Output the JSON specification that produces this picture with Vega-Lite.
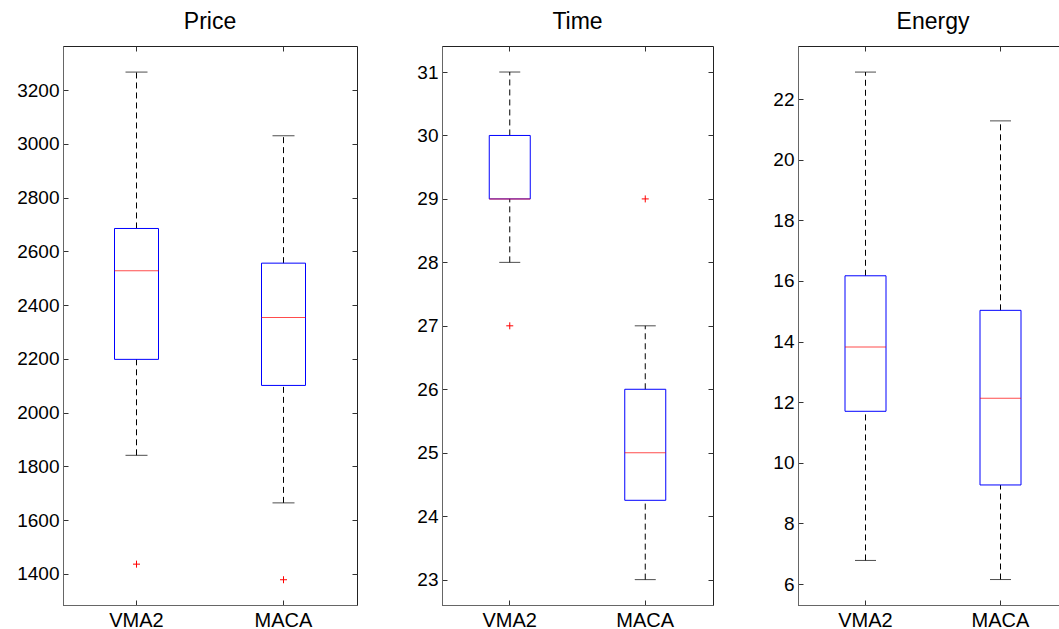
{
  "$schema": "https://vega.github.io/schema/vega-lite/v6.json",
  "padding": {"left": 16, "top": 10, "right": 0, "bottom": 0},
  "background": "white",
  "spacing": 58,
  "config": {
    "view": {"stroke": "#222", "strokeWidth": 1},
    "font": "Liberation Sans",
    "axis": {"labelFont": "Liberation Sans", "labelColor": "#000", "domainColor": "#666", "tickColor": "#333", "grid": false, "title": null},
    "title": {"font": "Liberation Sans", "fontSize": 23, "fontWeight": "normal", "color": "#000", "anchor": "middle", "baseline": "alphabetic", "offset": 12}
  },
  "datasets": {
    "stats": [
      {"metric": "Price", "group": "VMA2", "lower": 1841, "q1": 2198, "median": 2528, "q3": 2685, "upper": 3267},
      {"metric": "Price", "group": "MACA", "lower": 1664, "q1": 2101, "median": 2354, "q3": 2556, "upper": 3030},
      {"metric": "Time", "group": "VMA2", "lower": 28, "q1": 29, "median": 29, "q3": 30, "upper": 31},
      {"metric": "Time", "group": "MACA", "lower": 23, "q1": 24.25, "median": 25, "q3": 26, "upper": 27},
      {"metric": "Energy", "group": "VMA2", "lower": 6.78, "q1": 11.7, "median": 13.82, "q3": 16.17, "upper": 22.89},
      {"metric": "Energy", "group": "MACA", "lower": 6.15, "q1": 9.27, "median": 12.13, "q3": 15.03, "upper": 21.28}
    ],
    "outliers": [
      {"metric": "Price", "group": "VMA2", "value": 1436},
      {"metric": "Price", "group": "MACA", "value": 1378},
      {"metric": "Time", "group": "VMA2", "value": 27},
      {"metric": "Time", "group": "MACA", "value": 29}
    ]
  },
  "hconcat": [
    {
      "title": {"text": "Price"},
      "width": 294, "height": 559,
      "data": {"name": "stats"},
      "transform": [{"filter": "datum.metric === 'Price'"}],
      "resolve": {"axis": {"x": "independent", "y": "independent"}},
      "layer": [
        {"mark": {"type": "rule", "color": "#000", "strokeDash": [6, 4], "strokeWidth": 1},
         "encoding": {
           "x": {"field": "group", "type": "nominal", "sort": ["VMA2", "MACA"], "scale": {"paddingInner": 0, "paddingOuter": 0},
                 "axis": {"orient": "bottom", "labelAngle": 0, "labelFontSize": 20, "labelPadding": 10, "tickSize": -5}},
           "y": {"field": "q3", "type": "quantitative", "scale": {"domain": [1284, 3364], "nice": false, "zero": false},
                 "axis": {"orient": "left", "format": "d", "values": [1400, 1600, 1800, 2000, 2200, 2400, 2600, 2800, 3000, 3200], "labelFontSize": 19, "labelPadding": 9, "tickSize": -5}},
           "y2": {"field": "upper"}}},
        {"mark": {"type": "rule", "color": "#000", "strokeDash": [6, 4], "strokeWidth": 1},
         "encoding": {
           "x": {"field": "group", "type": "nominal", "sort": ["VMA2", "MACA"],
                 "axis": {"orient": "top", "labels": false, "domain": false, "tickSize": -5}},
           "y": {"field": "lower", "type": "quantitative",
                 "axis": {"orient": "right", "values": [1400, 1600, 1800, 2000, 2200, 2400, 2600, 2800, 3000, 3200], "labels": false, "domain": false, "tickSize": -5}},
           "y2": {"field": "q1"}}},
        {"mark": {"type": "bar", "size": 44, "fill": "transparent", "color": "#0000ff", "stroke": "#0000ff", "strokeWidth": 1},
         "encoding": {
           "x": {"field": "group", "type": "nominal", "sort": ["VMA2", "MACA"], "axis": null},
           "y": {"field": "q1", "type": "quantitative", "axis": null},
           "y2": {"field": "q3"}}},
        {"mark": {"type": "tick", "orient": "horizontal", "size": 22, "thickness": 1, "color": "#000"},
         "encoding": {
           "x": {"field": "group", "type": "nominal", "sort": ["VMA2", "MACA"], "axis": null},
           "y": {"field": "upper", "type": "quantitative", "axis": null}}},
        {"mark": {"type": "tick", "orient": "horizontal", "size": 22, "thickness": 1, "color": "#000"},
         "encoding": {
           "x": {"field": "group", "type": "nominal", "sort": ["VMA2", "MACA"], "axis": null},
           "y": {"field": "lower", "type": "quantitative", "axis": null}}},
        {"mark": {"type": "tick", "orient": "horizontal", "size": 44, "thickness": 1, "color": "#ff0000"},
         "encoding": {
           "x": {"field": "group", "type": "nominal", "sort": ["VMA2", "MACA"], "axis": null},
           "y": {"field": "median", "type": "quantitative", "axis": null}}},
        {"data": {"name": "outliers"},
         "transform": [{"filter": "datum.metric === 'Price'"}],
         "mark": {"type": "point", "shape": "M-1,0L1,0M0,-1L0,1", "filled": false, "stroke": "#ff0000", "strokeWidth": 1, "size": 49, "opacity": 1},
         "encoding": {
           "x": {"field": "group", "type": "nominal", "sort": ["VMA2", "MACA"], "axis": null},
           "y": {"field": "value", "type": "quantitative", "axis": null}}}
      ]
    },
    {
      "title": {"text": "Time"},
      "width": 271, "height": 559,
      "data": {"name": "stats"},
      "transform": [{"filter": "datum.metric === 'Time'"}],
      "resolve": {"axis": {"x": "independent", "y": "independent"}},
      "layer": [
        {"mark": {"type": "rule", "color": "#000", "strokeDash": [6, 4], "strokeWidth": 1},
         "encoding": {
           "x": {"field": "group", "type": "nominal", "sort": ["VMA2", "MACA"], "scale": {"paddingInner": 0, "paddingOuter": 0},
                 "axis": {"orient": "bottom", "labelAngle": 0, "labelFontSize": 20, "labelPadding": 10, "tickSize": -5}},
           "y": {"field": "q3", "type": "quantitative", "scale": {"domain": [22.6, 31.41], "nice": false, "zero": false},
                 "axis": {"orient": "left", "format": "d", "values": [23, 24, 25, 26, 27, 28, 29, 30, 31], "labelFontSize": 19, "labelPadding": 9, "tickSize": -5}},
           "y2": {"field": "upper"}}},
        {"mark": {"type": "rule", "color": "#000", "strokeDash": [6, 4], "strokeWidth": 1},
         "encoding": {
           "x": {"field": "group", "type": "nominal", "sort": ["VMA2", "MACA"],
                 "axis": {"orient": "top", "labels": false, "domain": false, "tickSize": -5}},
           "y": {"field": "lower", "type": "quantitative",
                 "axis": {"orient": "right", "values": [23, 24, 25, 26, 27, 28, 29, 30, 31], "labels": false, "domain": false, "tickSize": -5}},
           "y2": {"field": "q1"}}},
        {"mark": {"type": "bar", "size": 41, "fill": "transparent", "color": "#0000ff", "stroke": "#0000ff", "strokeWidth": 1},
         "encoding": {
           "x": {"field": "group", "type": "nominal", "sort": ["VMA2", "MACA"], "axis": null},
           "y": {"field": "q1", "type": "quantitative", "axis": null},
           "y2": {"field": "q3"}}},
        {"mark": {"type": "tick", "orient": "horizontal", "size": 21, "thickness": 1, "color": "#000"},
         "encoding": {
           "x": {"field": "group", "type": "nominal", "sort": ["VMA2", "MACA"], "axis": null},
           "y": {"field": "upper", "type": "quantitative", "axis": null}}},
        {"mark": {"type": "tick", "orient": "horizontal", "size": 21, "thickness": 1, "color": "#000"},
         "encoding": {
           "x": {"field": "group", "type": "nominal", "sort": ["VMA2", "MACA"], "axis": null},
           "y": {"field": "lower", "type": "quantitative", "axis": null}}},
        {"mark": {"type": "tick", "orient": "horizontal", "size": 41, "thickness": 1, "color": "#ff0000"},
         "encoding": {
           "x": {"field": "group", "type": "nominal", "sort": ["VMA2", "MACA"], "axis": null},
           "y": {"field": "median", "type": "quantitative", "axis": null}}},
        {"data": {"name": "outliers"},
         "transform": [{"filter": "datum.metric === 'Time'"}],
         "mark": {"type": "point", "shape": "M-1,0L1,0M0,-1L0,1", "filled": false, "stroke": "#ff0000", "strokeWidth": 1, "size": 49, "opacity": 1},
         "encoding": {
           "x": {"field": "group", "type": "nominal", "sort": ["VMA2", "MACA"], "axis": null},
           "y": {"field": "value", "type": "quantitative", "axis": null}}}
      ]
    },
    {
      "title": {"text": "Energy"},
      "width": 270, "height": 559,
      "data": {"name": "stats"},
      "transform": [{"filter": "datum.metric === 'Energy'"}],
      "resolve": {"axis": {"x": "independent", "y": "independent"}},
      "layer": [
        {"mark": {"type": "rule", "color": "#000", "strokeDash": [6, 4], "strokeWidth": 1},
         "encoding": {
           "x": {"field": "group", "type": "nominal", "sort": ["VMA2", "MACA"], "scale": {"paddingInner": 0, "paddingOuter": 0},
                 "axis": {"orient": "bottom", "labelAngle": 0, "labelFontSize": 20, "labelPadding": 10, "tickSize": -5}},
           "y": {"field": "q3", "type": "quantitative", "scale": {"domain": [5.31, 23.75], "nice": false, "zero": false},
                 "axis": {"orient": "left", "format": "d", "values": [6, 8, 10, 12, 14, 16, 18, 20, 22], "labelFontSize": 19, "labelPadding": 9, "tickSize": -5}},
           "y2": {"field": "upper"}}},
        {"mark": {"type": "rule", "color": "#000", "strokeDash": [6, 4], "strokeWidth": 1},
         "encoding": {
           "x": {"field": "group", "type": "nominal", "sort": ["VMA2", "MACA"],
                 "axis": {"orient": "top", "labels": false, "domain": false, "tickSize": -5}},
           "y": {"field": "lower", "type": "quantitative",
                 "axis": {"orient": "right", "values": [6, 8, 10, 12, 14, 16, 18, 20, 22], "labels": false, "domain": false, "tickSize": -5}},
           "y2": {"field": "q1"}}},
        {"mark": {"type": "bar", "size": 41, "fill": "transparent", "color": "#0000ff", "stroke": "#0000ff", "strokeWidth": 1},
         "encoding": {
           "x": {"field": "group", "type": "nominal", "sort": ["VMA2", "MACA"], "axis": null},
           "y": {"field": "q1", "type": "quantitative", "axis": null},
           "y2": {"field": "q3"}}},
        {"mark": {"type": "tick", "orient": "horizontal", "size": 21, "thickness": 1, "color": "#000"},
         "encoding": {
           "x": {"field": "group", "type": "nominal", "sort": ["VMA2", "MACA"], "axis": null},
           "y": {"field": "upper", "type": "quantitative", "axis": null}}},
        {"mark": {"type": "tick", "orient": "horizontal", "size": 21, "thickness": 1, "color": "#000"},
         "encoding": {
           "x": {"field": "group", "type": "nominal", "sort": ["VMA2", "MACA"], "axis": null},
           "y": {"field": "lower", "type": "quantitative", "axis": null}}},
        {"mark": {"type": "tick", "orient": "horizontal", "size": 41, "thickness": 1, "color": "#ff0000"},
         "encoding": {
           "x": {"field": "group", "type": "nominal", "sort": ["VMA2", "MACA"], "axis": null},
           "y": {"field": "median", "type": "quantitative", "axis": null}}}
      ]
    }
  ]
}
